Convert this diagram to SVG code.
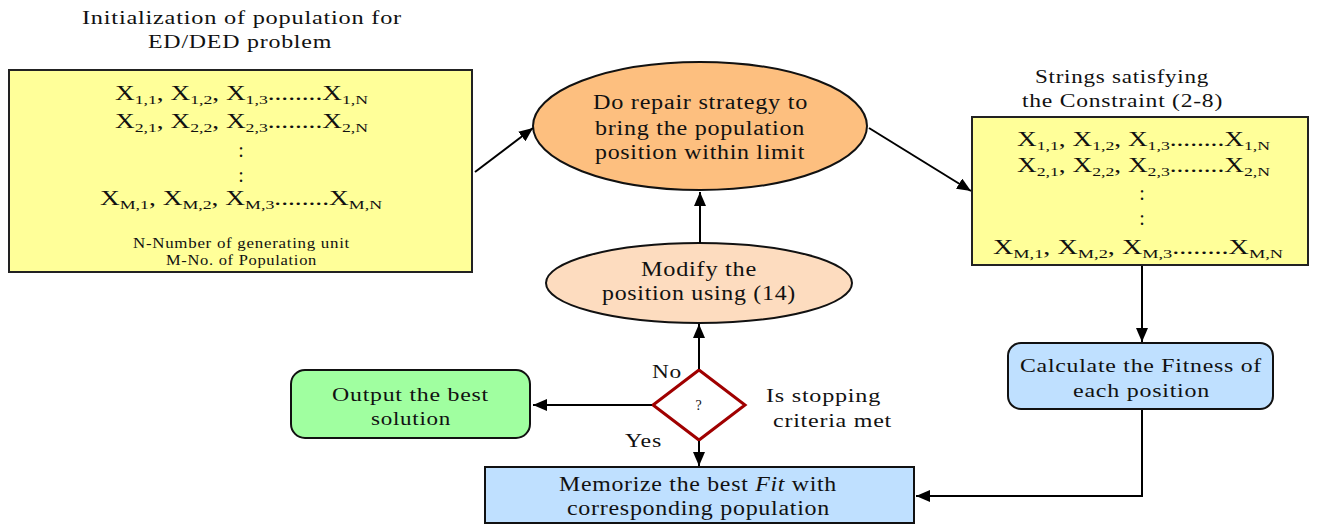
<svg xmlns="http://www.w3.org/2000/svg" width="1317" height="524" viewBox="0 0 1317 524">
  <defs>
    <marker id="arrow" viewBox="0 0 14 12" refX="14" refY="6" markerWidth="14" markerHeight="12" markerUnits="userSpaceOnUse" orient="auto">
      <path d="M0,0 L14,6 L0,12 Z" fill="#000"/>
    </marker>
    <style>
      text { font-family: "Liberation Serif", "Times New Roman", serif; fill: #111; letter-spacing: 0.6px; }
      .t18 { font-size: 19px; }
      .t19 { font-size: 20px; }
      .t14 { font-size: 14px; }
      .mx { font-size: 20px; letter-spacing: 0; }
      .sub { font-size: 13px; }
      .mid { text-anchor: middle; }
      .yellow { fill: #FFFF99; stroke: #222; stroke-width: 2; }
      .blue { fill: #BFE0FF; stroke: #111; stroke-width: 2; }
      .edge { fill: none; stroke: #000; stroke-width: 2; }
    </style>
  </defs>
  <rect width="1317" height="524" fill="#fff"/>

  <!-- initial population matrix -->
  <g id="init-population">
    <text class="t18" x="82" y="24" textLength="320" lengthAdjust="spacingAndGlyphs">Initialization of population for</text>
    <text class="t18" x="148" y="48" textLength="184" lengthAdjust="spacingAndGlyphs">ED/DED problem</text>
    <rect class="yellow" x="9" y="70" width="463" height="202"/>
    <text class="mx" x="115" y="100" textLength="253" lengthAdjust="spacingAndGlyphs">X<tspan class="sub" dy="4">1,1</tspan><tspan dy="-4">, X</tspan><tspan class="sub" dy="4">1,2</tspan><tspan dy="-4">, X</tspan><tspan class="sub" dy="4">1,3</tspan><tspan dy="-4">........X</tspan><tspan class="sub" dy="4">1,N</tspan></text>
    <text class="mx" x="115" y="128" textLength="253" lengthAdjust="spacingAndGlyphs">X<tspan class="sub" dy="4">2,1</tspan><tspan dy="-4">, X</tspan><tspan class="sub" dy="4">2,2</tspan><tspan dy="-4">, X</tspan><tspan class="sub" dy="4">2,3</tspan><tspan dy="-4">........X</tspan><tspan class="sub" dy="4">2,N</tspan></text>
    <text class="mx mid" x="241" y="157">:</text>
    <text class="mx mid" x="241" y="182">:</text>
    <text class="mx" x="100" y="205" textLength="282" lengthAdjust="spacingAndGlyphs">X<tspan class="sub" dy="4">M,1</tspan><tspan dy="-4">, X</tspan><tspan class="sub" dy="4">M,2</tspan><tspan dy="-4">, X</tspan><tspan class="sub" dy="4">M,3</tspan><tspan dy="-4">........X</tspan><tspan class="sub" dy="4">M,N</tspan></text>
    <text class="t14" x="133" y="248" textLength="217" lengthAdjust="spacingAndGlyphs">N-Number of generating unit</text>
    <text class="t14" x="166" y="265" textLength="151" lengthAdjust="spacingAndGlyphs">M-No. of Population</text>
  </g>

  <!-- repair strategy -->
  <g id="repair">
    <ellipse cx="700" cy="126" rx="167" ry="64" fill="#FDBF7F" stroke="#111" stroke-width="2"/>
    <text class="t19" x="593" y="109" textLength="215" lengthAdjust="spacingAndGlyphs">Do repair strategy to</text>
    <text class="t19" x="595" y="135" textLength="210" lengthAdjust="spacingAndGlyphs">bring the population</text>
    <text class="t19" x="595" y="159" textLength="210" lengthAdjust="spacingAndGlyphs">position within limit</text>
  </g>

  <!-- feasible strings -->
  <g id="feasible-strings">
    <text class="t18" x="1035" y="83" textLength="174" lengthAdjust="spacingAndGlyphs">Strings satisfying</text>
    <text class="t18" x="1022" y="107" textLength="201" lengthAdjust="spacingAndGlyphs">the Constraint (2-8)</text>
    <rect class="yellow" x="972" y="117" width="336" height="148"/>
    <text class="mx" x="1017" y="146" textLength="253" lengthAdjust="spacingAndGlyphs">X<tspan class="sub" dy="4">1,1</tspan><tspan dy="-4">, X</tspan><tspan class="sub" dy="4">1,2</tspan><tspan dy="-4">, X</tspan><tspan class="sub" dy="4">1,3</tspan><tspan dy="-4">........X</tspan><tspan class="sub" dy="4">1,N</tspan></text>
    <text class="mx" x="1017" y="172" textLength="253" lengthAdjust="spacingAndGlyphs">X<tspan class="sub" dy="4">2,1</tspan><tspan dy="-4">, X</tspan><tspan class="sub" dy="4">2,2</tspan><tspan dy="-4">, X</tspan><tspan class="sub" dy="4">2,3</tspan><tspan dy="-4">........X</tspan><tspan class="sub" dy="4">2,N</tspan></text>
    <text class="mx mid" x="1142" y="200">:</text>
    <text class="mx mid" x="1142" y="225">:</text>
    <text class="mx" x="993" y="254" textLength="290" lengthAdjust="spacingAndGlyphs">X<tspan class="sub" dy="4">M,1</tspan><tspan dy="-4">, X</tspan><tspan class="sub" dy="4">M,2</tspan><tspan dy="-4">, X</tspan><tspan class="sub" dy="4">M,3</tspan><tspan dy="-4">........X</tspan><tspan class="sub" dy="4">M,N</tspan></text>
  </g>

  <!-- fitness evaluation -->
  <g id="fitness">
    <rect class="blue" x="1008" y="343" width="265" height="66" rx="13"/>
    <text class="t18" x="1020" y="372" textLength="242" lengthAdjust="spacingAndGlyphs">Calculate the Fitness of</text>
    <text class="t18" x="1073" y="397" textLength="137" lengthAdjust="spacingAndGlyphs">each position</text>
  </g>

  <!-- position update -->
  <g id="modify">
    <ellipse cx="699" cy="283" rx="153" ry="40" fill="#FDDCBF" stroke="#111" stroke-width="2"/>
    <text class="t19" x="641" y="276" textLength="116" lengthAdjust="spacingAndGlyphs">Modify the</text>
    <text class="t19" x="602" y="300" textLength="194" lengthAdjust="spacingAndGlyphs">position using (14)</text>
  </g>

  <!-- stopping test -->
  <g id="decision">
    <polygon points="699,370 745,405 699,440 653,405" fill="#fff" stroke="#A00000" stroke-width="3"/>
    <text class="t14 mid" x="699" y="410" fill="#333">?</text>
    <text class="t18" x="652" y="378" textLength="30" lengthAdjust="spacingAndGlyphs">No</text>
    <text class="t18" x="625" y="447" textLength="37" lengthAdjust="spacingAndGlyphs">Yes</text>
    <text class="t18" x="766" y="402" textLength="115" lengthAdjust="spacingAndGlyphs">Is stopping</text>
    <text class="t18" x="773" y="427" textLength="119" lengthAdjust="spacingAndGlyphs">criteria met</text>
  </g>

  <!-- final output -->
  <g id="output">
    <rect x="291" y="370" width="239" height="68" rx="14" fill="#A0FFA0" stroke="#111" stroke-width="2"/>
    <text class="t18" x="332" y="401" textLength="157" lengthAdjust="spacingAndGlyphs">Output the best</text>
    <text class="t18" x="371" y="425" textLength="80" lengthAdjust="spacingAndGlyphs">solution</text>
  </g>

  <!-- memorize best -->
  <g id="memorize">
    <rect class="blue" x="485" y="467" width="429" height="56"/>
    <text class="t19" x="559" y="491" textLength="278" lengthAdjust="spacingAndGlyphs">Memorize the best <tspan font-style="italic">Fit</tspan> with</text>
    <text class="t19" x="567" y="515" textLength="263" lengthAdjust="spacingAndGlyphs">corresponding population</text>
  </g>

  <!-- connectors -->
  <g id="connectors" class="edge">
    <line x1="475" y1="172" x2="533" y2="128" marker-end="url(#arrow)"/>
    <line x1="869" y1="128" x2="971" y2="191" marker-end="url(#arrow)"/>
    <line x1="1142" y1="266" x2="1142" y2="342" marker-end="url(#arrow)"/>
    <polyline points="1142,410 1142,496 916,496" marker-end="url(#arrow)"/>
    <line x1="699" y1="369" x2="699" y2="324" marker-end="url(#arrow)"/>
    <line x1="700" y1="243" x2="700" y2="192" marker-end="url(#arrow)"/>
    <line x1="652" y1="405" x2="533" y2="405" marker-end="url(#arrow)"/>
    <line x1="699" y1="441" x2="699" y2="466" marker-end="url(#arrow)"/>
  </g>
</svg>
